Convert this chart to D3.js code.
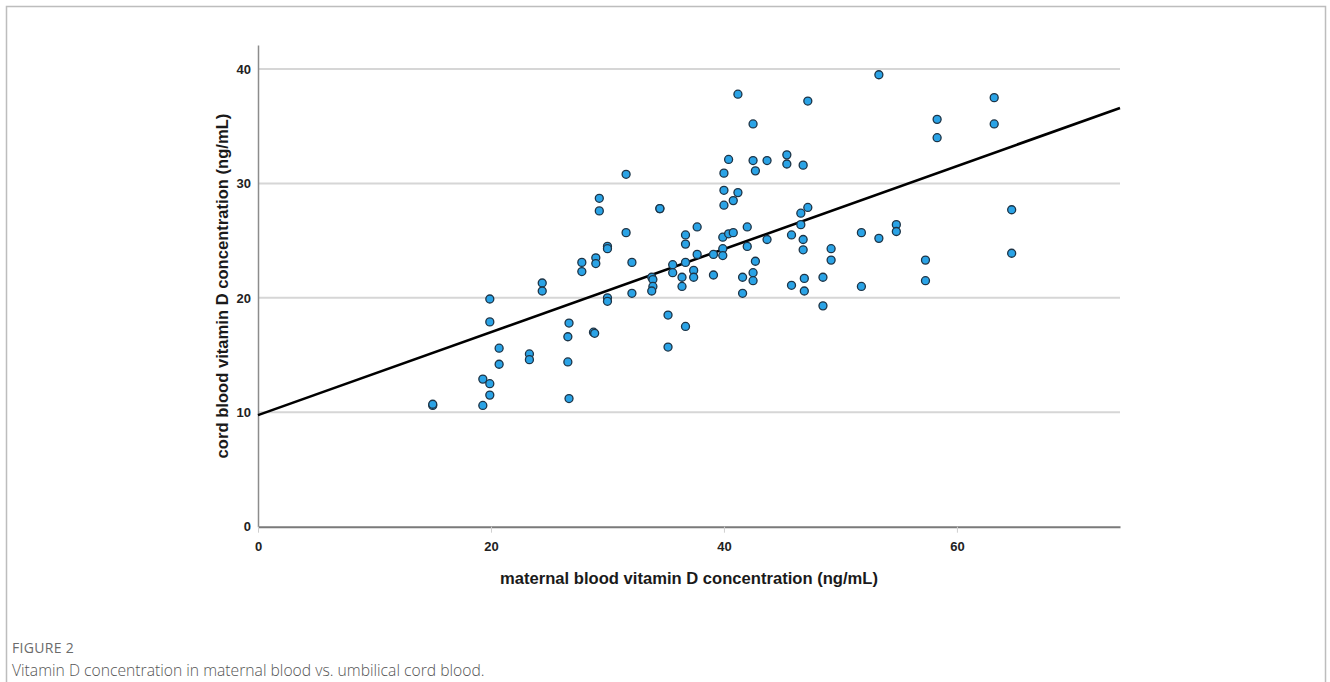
<!DOCTYPE html>
<html>
<head>
<meta charset="utf-8">
<script src="https://cdn.jsdelivr.net/npm/d3@7"></script>
<style>
  body { margin: 0; background: #fff; }
</style>
</head>
<body>
<svg width="1330" height="682"></svg>
<script>
// maternal blood vitamin D (x) and cord blood vitamin D (y)
var maternal = [15.0, 15.0, 19.3, 19.3, 19.9, 19.9, 19.9, 19.9, 20.7, 20.7,
  23.3, 23.3, 24.4, 24.4, 26.7, 26.6, 26.6, 26.7, 27.8, 27.8,
  29.0, 29.0, 28.8, 28.9, 29.3, 29.3, 30.0, 30.0, 30.0, 30.0,
  31.6, 31.6, 32.1, 32.1, 33.8, 33.9, 33.9, 33.8, 34.5, 34.5,
  35.2, 35.2, 35.6, 35.6, 36.4, 36.4, 36.7, 36.7, 36.7, 36.7,
  37.4, 37.4, 37.7, 37.7, 39.1, 39.1, 40.0, 40.0, 40.0, 39.9,
  39.9, 39.9, 40.4, 40.4, 40.8, 40.8, 41.2, 41.2, 41.6, 41.6,
  42.0, 42.0, 42.5, 42.5, 42.5, 42.5, 42.7, 42.7, 43.7, 43.7,
  45.4, 45.4, 45.8, 45.8, 46.6, 46.6, 46.8, 46.8, 46.8, 46.9,
  46.9, 47.2, 47.2, 48.5, 48.5, 49.2, 49.2, 51.8, 51.8, 53.3,
  53.3, 54.8, 54.8, 57.3, 57.3, 58.3, 58.3, 63.2, 63.2, 64.7, 64.7];
var cord = [10.6, 10.7, 10.6, 12.9, 12.5, 11.5, 19.9, 17.9, 15.6, 14.2,
  15.1, 14.6, 21.3, 20.6, 17.8, 16.6, 14.4, 11.2, 23.1, 22.3,
  23.5, 23.0, 17.0, 16.9, 28.7, 27.6, 24.5, 24.3, 20.0, 19.7,
  30.8, 25.7, 23.1, 20.4, 21.8, 21.6, 21.0, 20.6, 27.8, 27.8,
  18.5, 15.7, 22.9, 22.2, 21.8, 21.0, 25.5, 24.7, 23.1, 17.5,
  22.4, 21.8, 26.2, 23.8, 23.8, 22.0, 30.9, 29.4, 28.1, 25.3,
  24.3, 23.7, 32.1, 25.6, 28.5, 25.7, 37.8, 29.2, 21.8, 20.4,
  26.2, 24.5, 35.2, 32.0, 22.2, 21.5, 31.1, 23.2, 32.0, 25.1,
  32.5, 31.7, 25.5, 21.1, 27.4, 26.4, 31.6, 25.1, 24.2, 21.7,
  20.6, 37.2, 27.9, 21.8, 19.3, 24.3, 23.3, 25.7, 21.0, 39.5,
  25.2, 26.4, 25.8, 23.3, 21.5, 35.6, 34.0, 37.5, 35.2, 27.7, 23.9];

// fitted line end points
var fitX = [0, 74];
var fitY = [9.75, 36.6];

var xTicks = [0, 20, 40, 60];
var yTicks = [0, 10, 20, 30, 40];

var xLabel = "maternal blood vitamin D concentration (ng/mL)";
var yLabel = "cord blood vitamin D concentration (ng/mL)";
var figLabel = "FIGURE 2";
var caption = "Vitamin D concentration in maternal blood vs. umbilical cord blood.";

var svg = d3.select("svg");

// frame round the figure
svg.append("rect")
  .attr("x", 6.5).attr("y", 6.5)
  .attr("width", 1319).attr("height", 700)
  .attr("fill", "none")
  .attr("stroke", "#bdbdbd")
  .attr("stroke-width", 1.5);

var x = d3.scaleLinear().domain([0, 74]).range([258, 1120]);
var y = d3.scaleLinear().domain([0, 42.1]).range([526.7, 45]);

// grid lines
svg.append("g")
  .selectAll("line")
  .data(yTicks.filter(function (d) { return d > 0; }))
  .join("line")
  .attr("x1", x(0)).attr("x2", x(74))
  .attr("y1", function (d) { return y(d); })
  .attr("y2", function (d) { return y(d); })
  .attr("stroke", "#d6d6d6")
  .attr("stroke-width", 2);

// y axis
var yAxis = svg.append("g")
  .attr("transform", "translate(" + x(0) + ",0)")
  .call(d3.axisLeft(y).tickValues(yTicks).tickSize(0).tickPadding(7));
yAxis.select(".domain").attr("stroke", "#8c8c8c").attr("stroke-width", 1.5);

// x axis
var xAxis = svg.append("g")
  .attr("transform", "translate(0," + y(0) + ")")
  .call(d3.axisBottom(x).tickValues(xTicks).tickSizeInner(6).tickSizeOuter(0).tickPadding(9));
xAxis.select(".domain").attr("stroke", "#7a7a7a").attr("stroke-width", 2);
xAxis.selectAll(".tick line").attr("stroke", "#cfcfcf").attr("stroke-width", 1);

svg.selectAll(".tick text")
  .attr("font-family", "'Liberation Sans', Arial, sans-serif")
  .attr("font-size", 13)
  .attr("font-weight", "bold")
  .attr("fill", "#222");

// axis titles
svg.append("text")
  .attr("x", 689).attr("y", 584)
  .attr("text-anchor", "middle")
  .attr("font-family", "'Liberation Sans', Arial, sans-serif")
  .attr("font-size", 16.6).attr("font-weight", "bold")
  .attr("fill", "#1a1a1a")
  .text(xLabel);

svg.append("text")
  .attr("transform", "translate(228,286) rotate(-90)")
  .attr("text-anchor", "middle")
  .attr("font-family", "'Liberation Sans', Arial, sans-serif")
  .attr("font-size", 16.6).attr("font-weight", "bold")
  .attr("fill", "#1a1a1a")
  .text(yLabel);

// fit line
var line = d3.line()
  .x(function (d) { return x(d[0]); })
  .y(function (d) { return y(d[1]); });

svg.append("path")
  .datum(d3.zip(fitX, fitY))
  .attr("d", line)
  .attr("fill", "none")
  .attr("stroke", "#000")
  .attr("stroke-width", 2.6);

// the points
svg.append("g")
  .selectAll("circle")
  .data(d3.zip(maternal, cord))
  .join("circle")
  .attr("cx", function (d) { return x(d[0]); })
  .attr("cy", function (d) { return y(d[1]); })
  .attr("r", 4)
  .attr("fill", "#2aa3e6")
  .attr("stroke", "#1e3446")
  .attr("stroke-width", 1.3);

// caption
svg.append("text")
  .attr("x", 12).attr("y", 653)
  .attr("font-family", "'Open Sans', sans-serif")
  .attr("font-size", 14)
  .attr("letter-spacing", 0.3)
  .attr("fill", "#6b6b6b")
  .text(figLabel);

svg.append("text")
  .attr("x", 12).attr("y", 676)
  .attr("font-family", "'Open Sans', sans-serif")
  .attr("font-size", 15.7)
  .attr("font-weight", 300)
  .attr("fill", "#555")
  .text(caption);
</script>
</body>
</html>
